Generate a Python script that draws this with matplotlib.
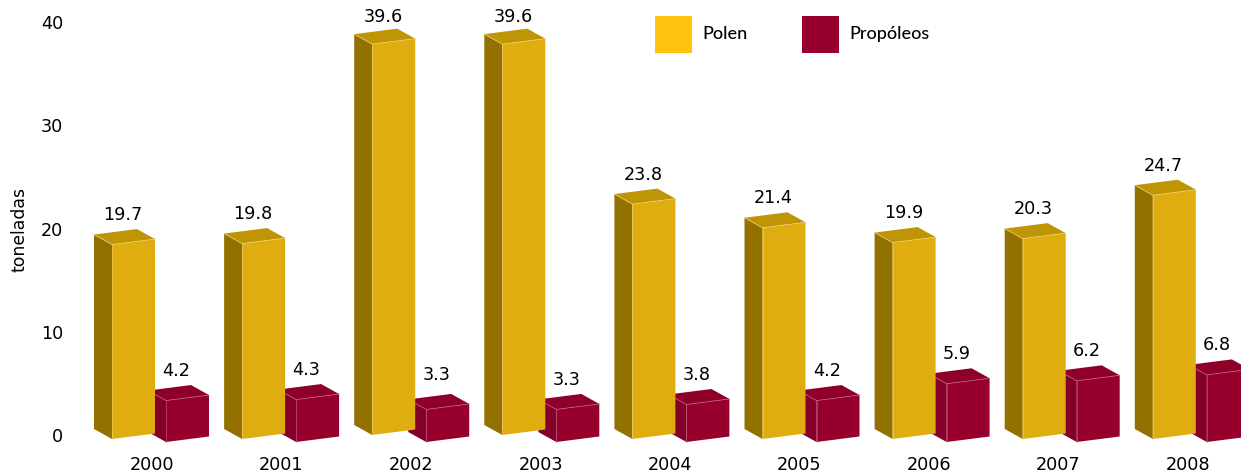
import matplotlib
matplotlib.use("Agg")
import matplotlib.pyplot as plt
from matplotlib.patches import Polygon, Rectangle

years = ['2000', '2001', '2002', '2003', '2004', '2005', '2006', '2007', '2008']
polen = [19.7, 19.8, 39.6, 39.6, 23.8, 21.4, 19.9, 20.3, 24.7]
propoleos = [4.2, 4.3, 3.3, 3.3, 3.8, 4.2, 5.9, 6.2, 6.8]
y_ticks = [0, 10, 20, 30, 40]

W, H = 1241, 473
PX = 1 / 130.1   # group units per pixel
PY = 1 / 9.87    # tonnes per pixel

YELLOW = ('#E0AD10', '#927100', '#BF9405', '#F0CF70')
MAROON = ('#97002D', '#84002A', '#8E0029', '#C2607F')
TEXT = '#000000'


def box(ax, x, base, value, colors):
    front, side, top, edge = colors
    bw, skew = 43 * PX, 5.5 * PY
    dx, dy = 18 * PX, 10 * PY
    h = base + value
    # x, y corners: front left/right, then the back ones
    ax.add_patch(Polygon([(x, base), (x, h), (x - dx, h + dy), (x - dx, base + dy)],
                         fc=side, ec='none', lw=0, zorder=2))
    ax.add_patch(Polygon([(x, h), (x + bw, h + skew), (x + bw - dx, h + skew + dy), (x - dx, h + dy)],
                         fc=top, ec='none', lw=0, zorder=2))
    ax.add_patch(Polygon([(x, base), (x + bw, base + skew), (x + bw, h + skew), (x, h)],
                         fc=front, ec='none', lw=0, zorder=2))
    ax.plot([x - dx, x, x + bw], [h + dy, h, h + skew], color=edge, lw=0.5, zorder=2)
    ax.plot([x, x], [base, h], color=edge, lw=0.4, zorder=2)


fig = plt.figure(figsize=(W / 100, H / 100), dpi=100)
rect = [70 / W, 1 - 450 / H, (W - 70) / W, 450 / H]

ax = fig.add_axes(rect)
ax.set_xlim((70 - 112) * PX, (W - 112) * PX)
ax.set_ylim((439 - 450) * PY, 439 * PY)
ax.axis('off')

for i, year in enumerate(years):
    # the two tallest bars sit a little higher in the original
    lift = 4 * PY if polen[i] > 30 else 0
    mx = i + 54 * PX
    mbase = -3 * PY
    box(ax, mx, mbase, propoleos[i], MAROON)
    box(ax, i, lift, polen[i], YELLOW)
    label_gap = 27.5 if polen[i] > 30 else 29.5
    ax.text(i + 11 * PX, lift + polen[i] + label_gap * PY, f'{polen[i]:.1f}',
            ha='center', va='center', fontsize=12.7, color=TEXT, zorder=3)
    nudge = 5 * PY if year == '2002' else 0
    ax.text(mx + 10.5 * PX, mbase + propoleos[i] + (29.5 * PY) + nudge, f'{propoleos[i]:.1f}',
            ha='center', va='center', fontsize=12.7, color=TEXT, zorder=3)

# tick labels follow their own scale, it does not line up with the bars
ticks = fig.add_axes(rect, frameon=False)
ticks.patch.set_alpha(0)
ticks.set_xlim((70 - 152) / 129.5, (W - 152) / 129.5)
ticks.set_ylim((435 - 450) / 10.325, 435 / 10.325)
ticks.set_xticks(range(len(years)))
ticks.set_xticklabels(years)
ticks.set_yticks(y_ticks)
ticks.tick_params(axis='both', length=0, labelsize=12.7, labelcolor=TEXT)
ticks.tick_params(axis='x', pad=4)
ticks.tick_params(axis='y', pad=5)

fig.text(19.5 / W, 1 - 229 / H, 'toneladas', rotation=90, ha='center', va='center',
         fontsize=12.4, color=TEXT)

# legend
for x0, color, label in [(655, '#FFC20E', 'Polen'), (802, '#97002D', 'Propóleos')]:
    fig.add_artist(Rectangle((x0 / W, 1 - 53 / H), 37 / W, 37 / H, transform=fig.transFigure,
                             fc=color, ec='none'))
    fig.text((x0 + 47.5) / W, 1 - 34 / H, label, ha='left', va='center',
             family='Lato', fontweight='medium', fontsize=13, color=TEXT)

fig.savefig('out.png', dpi=100)
